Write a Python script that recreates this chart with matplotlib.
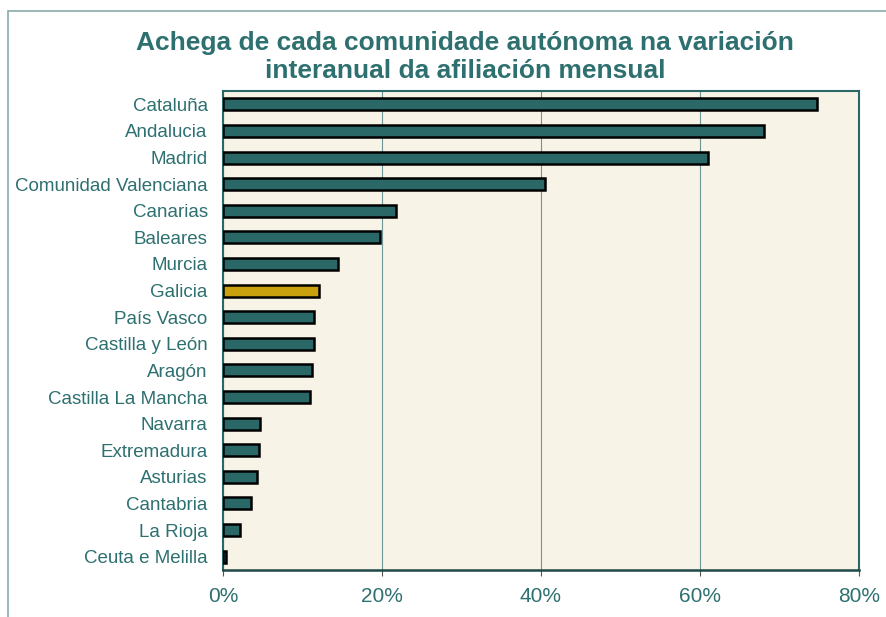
import matplotlib.pyplot as plt
from matplotlib.ticker import PercentFormatter
from matplotlib.patches import Rectangle

plt.rcParams['font.family'] = ['Liberation Sans', 'DejaVu Sans']

# data (share of interannual change, %)
comunidades = ['Cataluña', 'Andalucia', 'Madrid', 'Comunidad Valenciana', 'Canarias',
               'Baleares', 'Murcia', 'Galicia', 'País Vasco', 'Castilla y León',
               'Aragón', 'Castilla La Mancha', 'Navarra', 'Extremadura', 'Asturias',
               'Cantabria', 'La Rioja', 'Ceuta e Melilla']
achega = [74.7, 68.1, 61.0, 40.5, 21.8, 19.7, 14.5, 12.1, 11.5, 11.5,
          11.2, 10.9, 4.7, 4.5, 4.3, 3.5, 2.1, 0.4]
ticks = [0, 20, 40, 60, 80]

teal = '#2a6868'
txt = '#2e7070'
gold = '#c9a00e'
bg = '#f7f3e6'

fig = plt.figure(figsize=(8.86, 6.17), dpi=100)
# outer frame
fig.patches.append(Rectangle((8/886, -0.1), 1.2, 1 - 11/617 + 0.1, transform=fig.transFigure,
                             fill=False, edgecolor='#8aaaaa', linewidth=1.2))

ax = fig.add_axes([223/886, 1 - 570/617, (859 - 223)/886, (570 - 91)/617])
ax.set_facecolor(bg)

cols = [gold if c == 'Galicia' else teal for c in comunidades]
y = list(range(len(comunidades)))
ax.barh(y, achega, height=0.45, color=cols, edgecolor='black', linewidth=1.8, zorder=3)
ax.set_ylim(len(comunidades) - 0.5, -0.5)
ax.set_xlim(0, 80)
ax.set_xticks(ticks)
ax.xaxis.set_major_formatter(PercentFormatter(decimals=0))
ax.set_yticks(y)
ax.set_yticklabels(comunidades)
ax.tick_params(axis='y', length=0, pad=11, labelsize=13.5, labelcolor=txt)
ax.tick_params(axis='x', length=4, color='#555555', pad=8, labelsize=15, labelcolor=txt)
ax.grid(axis='x', color='#6f9797', linewidth=0.8, zorder=0)

for s in ['left', 'right', 'top']:
    ax.spines[s].set_color(teal)
    ax.spines[s].set_linewidth(1.5)
ax.spines['bottom'].set_color('#1f4848')
ax.spines['bottom'].set_linewidth(1.8)

fig.text(465/886, 1 - 57/617, 'Achega de cada comunidade autónoma na variación\ninteranual da afiliación mensual',
         ha='center', va='center', fontsize=19, fontweight='bold', color=txt, linespacing=1.2)

plt.savefig('out.png', dpi=100)
